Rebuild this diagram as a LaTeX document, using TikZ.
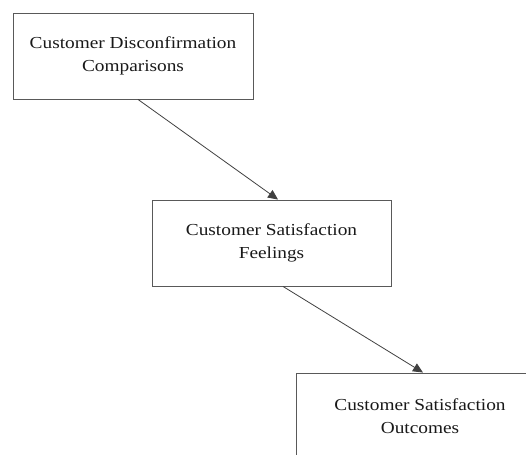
\documentclass[tikz,border=0pt]{standalone}
\usepackage{fontspec}
\setmainfont[FakeStretch=1.15]{Liberation Serif}
\usetikzlibrary{arrows.meta}
\begin{document}
\begin{tikzpicture}[x=1pt,y=-1pt,
  box/.style={draw=black!65,line width=0.9pt,minimum width=#1,minimum height=86pt,inner sep=0pt,align=center,
    font=\fontsize{16.8}{23.5}\selectfont,text=black!90},
  conn/.style={draw=black!75,line width=0.8pt,-{Triangle[length=10pt,width=9pt]}}]
\clip (0,0) rectangle (526,454);
\useasboundingbox (0,0) rectangle (526,454);
\node[box=240pt] (b1) at (133,56) {Customer Disconfirmation\\Comparisons};
\node[box=239pt] (b2) at (271.5,243) {Customer Satisfaction\\Feelings};
\node[box=248pt] (b3) at (420,416) {Customer Satisfaction\\Outcomes};
\draw[conn] ([xshift=5pt]b1.south) -- ([xshift=6.5pt]b2.north);
\draw[conn] ([xshift=11.5pt]b2.south) -- ([xshift=3pt]b3.north);
\end{tikzpicture}
\end{document}
